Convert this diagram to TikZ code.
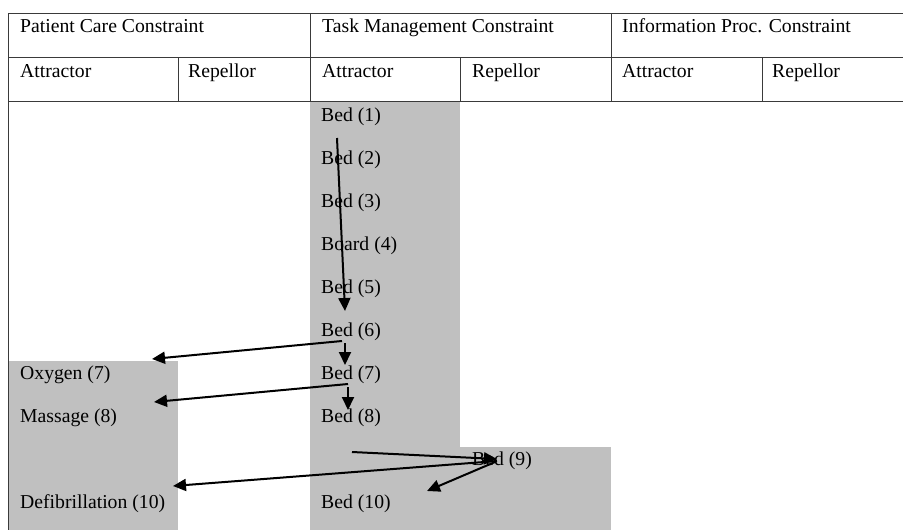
\documentclass[tikz,border=0pt]{standalone}
\usepackage{fontspec}
\setmainfont{Liberation Serif}
\usetikzlibrary{arrows.meta, calc}
\definecolor{celdaGris}{HTML}{C0C0C0}
\definecolor{lineaTabla}{HTML}{3A3A3A}

\begin{document}
\begin{tikzpicture}[x=1pt, y=-1pt, font=\fontsize{19.7}{23}\selectfont,
        lbl/.style={anchor=base west, inner sep=0pt},
        rule/.style={lineaTabla, line width=1pt},
        flow/.style={-{Triangle[length=13pt, width=12pt]}, line width=2pt}]
    \useasboundingbox (0,0) rectangle (903,530);
    % shaded cells
    \fill[celdaGris] (310,101) rectangle (460,530);
    \fill[celdaGris] (460,447) rectangle (611,530);
    \fill[celdaGris] (8,361) rectangle (178,530);
    % table rules
    \foreach \y in {13,57,101} \draw[rule] (8,\y) -- (903,\y);
    \draw[rule] (8,13) -- (8,530);
    \foreach \x in {310,611} \draw[rule] (\x,13) -- (\x,101);
    \foreach \x in {178,460,762} \draw[rule] (\x,57) -- (\x,101);
    % headers
    \node[lbl] (pcHead) at (20,32)  {Patient Care Constraint};
    \node[lbl] (tmHead) at (322,32) {Task Management Constraint};
    \node[lbl] (ipHead) at (622,32) {Information Proc. Constraint};
    \foreach \x/\n in {20/pc,322/tm,622/ip} \node[lbl] (att-\n) at (\x,77) {Attractor};
    \foreach \x/\n in {188/pc,472/tm,772/ip} \node[lbl] (rep-\n) at (\x,77) {Repellor};
    % task management sequence
    \node[lbl] (bed1)   at (321,121) {Bed (1)};
    \node[lbl] (bed2)   at (321,164) {Bed (2)};
    \node[lbl] (bed3)   at (321,207) {Bed (3)};
    \node[lbl] (board4) at (321,250) {Board (4)};
    \node[lbl] (bed5)   at (321,293) {Bed (5)};
    \node[lbl] (bed6)   at (321,336) {Bed (6)};
    \node[lbl] (bed7)   at (321,379) {Bed (7)};
    \node[lbl] (bed8)   at (321,422) {Bed (8)};
    \node[lbl] (bed9)   at (472,465) {Bed (9)};
    \node[lbl] (bed10)  at (321,508) {Bed (10)};
    % patient care
    \node[lbl] (oxy7)    at (20,379) {Oxygen (7)};
    \node[lbl] (mas8)    at (20,422) {Massage (8)};
    \node[lbl] (defib10) at (20,508) {Defibrillation (10)};
    % transitions
    \draw[flow] ($(bed1.base west)+(16,17)$) -- ($(bed6.base west)+(24,-25)$);
    \draw[flow] ($(bed6.base west)+(21,5)$)  -- ($(oxy7.base west)+(132,-20)$);
    \draw[flow] ($(bed6.base west)+(24,7)$)  -- ($(bed7.base west)+(24,-14)$);
    \draw[flow] ($(bed7.base west)+(27,5)$)  -- ($(mas8.base west)+(134,-20)$);
    \draw[flow] ($(bed7.base west)+(27,8)$)  -- ($(bed8.base west)+(27,-12)$);
    \draw[flow] ($(bed8.base west)+(31,30)$) -- ($(bed9.base west)+(25,-6)$);
    \draw[flow] ($(bed9.base west)+(25,-4)$) -- ($(defib10.base west)+(153,-22)$);
    \draw[flow] ($(bed9.base west)+(23,-3)$) -- ($(bed10.base west)+(106,-17)$);
\end{tikzpicture}
\end{document}
